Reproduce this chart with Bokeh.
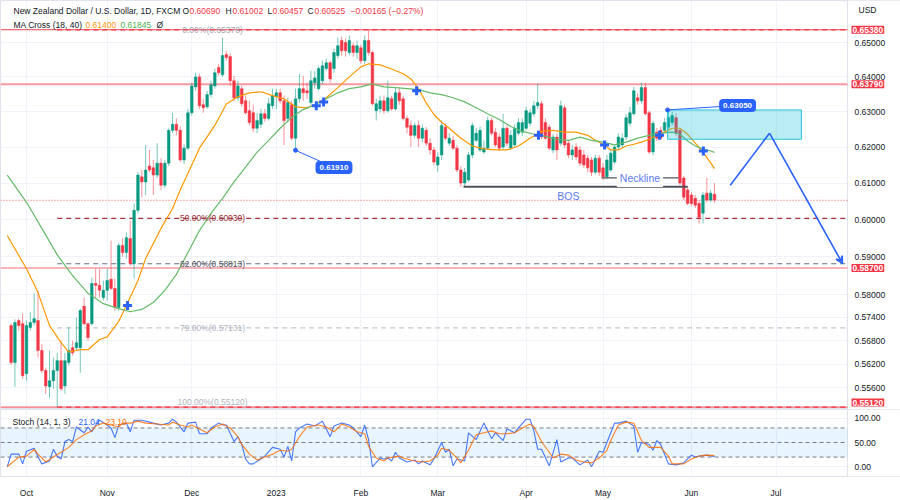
import math
from bokeh.plotting import figure
from bokeh.layouts import column
from bokeh.models import (ColumnDataSource, FixedTicker, Label, Arrow, VeeHead, Range1d, Grid)
from bokeh.core.properties import value
from bokeh.embed import file_html
from bokeh.resources import INLINE

FONT = "Liberation Sans"

# ---------------- data (daily bars, index 0 = first bar of October 2022) ----------------
bar_index = list(range(-4, 180))
opens = [0.5719,0.5624,0.5732,0.5724,0.5596,0.5714,0.5727,0.5732,0.5655,0.5604,
         0.5563,0.5578,0.5604,0.5629,0.5565,0.5624,0.5662,0.5662,0.5662,0.5769,
         0.5724,0.5724,0.5829,0.5824,0.5792,0.5811,0.5840,0.5816,0.5766,0.5930,
         0.5911,0.5949,0.5882,0.6025,0.6117,0.6103,0.6147,0.6142,0.6122,0.6155,
         0.6094,0.6155,0.6247,0.6264,0.6247,0.6164,0.6197,0.6297,0.6371,0.6400,
         0.6320,0.6314,0.6349,0.6374,0.6427,0.6406,0.6465,0.6459,0.6389,0.6340,
         0.6366,0.6331,0.6303,0.6297,0.6253,0.6264,0.6294,0.6281,0.6317,0.6343,
         0.6354,0.6331,0.6281,0.6320,0.6225,0.6337,0.6366,0.6360,0.6326,0.6383,
         0.6366,0.6389,0.6424,0.6441,0.6424,0.6462,0.6506,0.6500,0.6471,0.6491,
         0.6471,0.6485,0.6447,0.6506,0.6471,0.6303,0.6308,0.6331,0.6303,0.6337,
         0.6308,0.6354,0.6337,0.6281,0.6261,0.6233,0.6261,0.6225,0.6247,0.6211,
         0.6192,0.6150,0.6178,0.6256,0.6211,0.6219,0.6197,0.6136,0.6100,0.6108,
         0.6178,0.6219,0.6192,0.6186,0.6197,0.6275,0.6242,0.6228,0.6200,0.6253,
         0.6197,0.6206,0.6239,0.6242,0.6253,0.6267,0.6294,0.6317,0.6323,0.6269,
         0.6256,0.6192,0.6228,0.6211,0.6311,0.6211,0.6178,0.6200,0.6192,0.6178,
         0.6169,0.6164,0.6130,0.6169,0.6142,0.6117,0.6136,0.6158,0.6200,0.6206,
         0.6228,0.6267,0.6294,0.6340,0.6331,0.6369,0.6297,0.6186,0.6242,0.6247,
         0.6247,0.6256,0.6269,0.6283,0.6247,0.6114,0.6081,0.6067,0.6058,0.6044,
         0.6017,0.6072,0.6053,0.6069]
highs = [0.5724,0.5735,0.5737,0.5750,0.5732,0.5753,0.5803,0.5811,0.5672,0.5611,
         0.5655,0.5637,0.5649,0.5680,0.5649,0.5716,0.5680,0.5740,0.5763,0.5792,
         0.5727,0.5845,0.5868,0.5868,0.5837,0.5868,0.5943,0.5842,0.5938,0.5949,
         0.5965,0.5997,0.6044,0.6130,0.6136,0.6206,0.6192,0.6164,0.6211,0.6169,
         0.6164,0.6253,0.6297,0.6281,0.6258,0.6208,0.6308,0.6383,0.6412,0.6409,
         0.6337,0.6360,0.6389,0.6424,0.6438,0.6515,0.6476,0.6468,0.6403,0.6389,
         0.6374,0.6346,0.6331,0.6320,0.6297,0.6308,0.6308,0.6340,0.6366,0.6366,
         0.6366,0.6346,0.6340,0.6331,0.6366,0.6409,0.6403,0.6383,0.6418,0.6418,
         0.6432,0.6447,0.6453,0.6447,0.6482,0.6515,0.6518,0.6512,0.6521,0.6500,
         0.6506,0.6494,0.6521,0.6538,0.6476,0.6337,0.6346,0.6346,0.6389,0.6346,
         0.6371,0.6369,0.6346,0.6289,0.6275,0.6269,0.6275,0.6264,0.6256,0.6225,
         0.6200,0.6186,0.6275,0.6267,0.6239,0.6231,0.6206,0.6147,0.6142,0.6186,
         0.6269,0.6253,0.6258,0.6219,0.6286,0.6283,0.6253,0.6239,0.6294,0.6261,
         0.6247,0.6264,0.6281,0.6281,0.6314,0.6308,0.6331,0.6380,0.6331,0.6281,
         0.6264,0.6236,0.6239,0.6331,0.6320,0.6219,0.6206,0.6211,0.6203,0.6192,
         0.6178,0.6172,0.6178,0.6178,0.6155,0.6178,0.6192,0.6206,0.6239,0.6239,
         0.6294,0.6314,0.6371,0.6354,0.6383,0.6383,0.6303,0.6275,0.6253,0.6258,
         0.6281,0.6305,0.6300,0.6295,0.6253,0.6119,0.6092,0.6075,0.6067,0.6053,
         0.6075,0.6114,0.6081,0.6100]
lows = [0.5619,0.5563,0.5706,0.5583,0.5578,0.5706,0.5719,0.5637,0.5598,0.5545,
        0.5535,0.5558,0.5512,0.5553,0.5545,0.5616,0.5642,0.5655,0.5598,0.5719,
        0.5680,0.5719,0.5792,0.5792,0.5784,0.5784,0.5811,0.5758,0.5758,0.5900,
        0.5895,0.5876,0.5842,0.6017,0.6061,0.6067,0.6130,0.6067,0.6114,0.6081,
        0.6086,0.6147,0.6239,0.6233,0.6158,0.6153,0.6192,0.6289,0.6360,0.6308,
        0.6297,0.6308,0.6340,0.6366,0.6403,0.6400,0.6447,0.6374,0.6331,0.6331,
        0.6314,0.6292,0.6261,0.6242,0.6239,0.6253,0.6272,0.6275,0.6308,0.6308,
        0.6323,0.6206,0.6269,0.6219,0.6191,0.6326,0.6331,0.6337,0.6320,0.6366,
        0.6360,0.6380,0.6418,0.6383,0.6412,0.6453,0.6462,0.6459,0.6462,0.6459,
        0.6453,0.6438,0.6438,0.6462,0.6317,0.6275,0.6297,0.6294,0.6297,0.6303,
        0.6303,0.6320,0.6275,0.6239,0.6200,0.6225,0.6200,0.6214,0.6203,0.6178,
        0.6150,0.6130,0.6164,0.6219,0.6203,0.6192,0.6130,0.6089,0.6089,0.6103,
        0.6169,0.6214,0.6186,0.6181,0.6192,0.6233,0.6200,0.6189,0.6194,0.6203,
        0.6192,0.6197,0.6233,0.6231,0.6247,0.6258,0.6286,0.6308,0.6222,0.6219,
        0.6192,0.6183,0.6164,0.6203,0.6197,0.6169,0.6164,0.6164,0.6147,0.6142,
        0.6130,0.6119,0.6125,0.6119,0.6108,0.6111,0.6130,0.6153,0.6192,0.6197,
        0.6219,0.6258,0.6289,0.6320,0.6323,0.6289,0.6181,0.6178,0.6217,0.6219,
        0.6239,0.6247,0.6261,0.6231,0.6094,0.6053,0.6039,0.6036,0.6031,0.5989,
        0.5989,0.6047,0.6047,0.6046]
closes = [0.5624,0.5727,0.5719,0.5591,0.5719,0.5727,0.5737,0.5655,0.5604,0.5565,
          0.5578,0.5604,0.5629,0.5558,0.5629,0.5655,0.5649,0.5675,0.5758,0.5724,
          0.5688,0.5829,0.5824,0.5811,0.5811,0.5837,0.5816,0.5766,0.5930,0.5911,
          0.5951,0.5882,0.6025,0.6122,0.6103,0.6136,0.6136,0.6122,0.6155,0.6094,
          0.6155,0.6247,0.6264,0.6247,0.6164,0.6197,0.6297,0.6374,0.6400,0.6317,
          0.6311,0.6349,0.6377,0.6412,0.6412,0.6462,0.6456,0.6389,0.6340,0.6374,
          0.6323,0.6297,0.6269,0.6253,0.6275,0.6294,0.6281,0.6323,0.6346,0.6354,
          0.6331,0.6275,0.6326,0.6225,0.6337,0.6366,0.6354,0.6354,0.6389,0.6397,
          0.6424,0.6432,0.6441,0.6394,0.6471,0.6491,0.6476,0.6476,0.6506,0.6471,
          0.6491,0.6447,0.6506,0.6471,0.6323,0.6323,0.6331,0.6303,0.6340,0.6308,
          0.6354,0.6331,0.6281,0.6256,0.6233,0.6261,0.6225,0.6253,0.6211,0.6192,
          0.6158,0.6172,0.6261,0.6225,0.6225,0.6197,0.6136,0.6100,0.6130,0.6178,
          0.6261,0.6239,0.6247,0.6197,0.6275,0.6239,0.6206,0.6197,0.6253,0.6211,
          0.6233,0.6253,0.6269,0.6269,0.6303,0.6297,0.6317,0.6326,0.6228,0.6225,
          0.6197,0.6228,0.6192,0.6317,0.6206,0.6178,0.6192,0.6172,0.6155,0.6150,
          0.6142,0.6130,0.6169,0.6130,0.6117,0.6164,0.6183,0.6200,0.6228,0.6225,
          0.6283,0.6297,0.6360,0.6331,0.6369,0.6294,0.6186,0.6267,0.6225,0.6225,
          0.6269,0.6283,0.6289,0.6239,0.6100,0.6061,0.6044,0.6044,0.6039,0.6006,
          0.6067,0.6053,0.6072,0.6053]

# MA Cross (18, 40)
ma18_idx = [-5,0,3,6,9,11,14,16,19,21,24,26,29,31,35,38,40,43,45,49,52,55,58,61,64,67,70,73,75,78,
            81,84,87,89,92,95,98,100,102,104,106,108,110,113,116,119,122,125,128,131,134,137,140,143,
            146,148,150,152,154,156,158,160,162,164,166,168,170,172,174,176,178,179]
ma18_val = [0.5957,0.5868,0.5805,0.5719,0.5675,0.5651,0.5657,0.5657,0.5683,0.5690,0.5730,0.5771,0.5837,
            0.5895,0.5976,0.6030,0.6081,0.6150,0.6197,0.6261,0.6322,0.6343,0.6354,0.6357,0.6346,0.6337,
            0.6314,0.6311,0.6320,0.6340,0.6369,0.6400,0.6429,0.6438,0.6435,0.6423,0.6409,0.6394,0.6366,
            0.6325,0.6292,0.6270,0.6253,0.6225,0.6203,0.6195,0.6192,0.6192,0.6203,0.6225,0.6244,0.6247,
            0.6242,0.6242,0.6233,0.6219,0.6208,0.6192,0.6192,0.6203,0.6208,0.6214,0.6222,0.6233,0.6242,
            0.6253,0.6253,0.6236,0.6211,0.6186,0.6156,0.6140]
ma40_idx = [-5,0,4,8,12,16,20,24,27,30,33,36,39,42,45,48,51,54,57,60,63,66,69,72,75,78,81,84,87,90,
            93,96,99,102,105,108,111,114,117,120,123,126,129,132,135,138,141,144,147,150,153,156,159,
            162,165,168,170,172,174,176,178,179]
ma40_val = [0.6122,0.6047,0.5976,0.5905,0.5850,0.5803,0.5776,0.5763,0.5755,0.5761,0.5779,0.5811,0.5853,
            0.5911,0.5970,0.6017,0.6058,0.6103,0.6144,0.6186,0.6219,0.6253,0.6284,0.6306,0.6320,0.6337,
            0.6354,0.6366,0.6371,0.6380,0.6371,0.6369,0.6366,0.6363,0.6354,0.6349,0.6340,0.6328,0.6311,
            0.6294,0.6278,0.6258,0.6244,0.6236,0.6230,0.6222,0.6219,0.6228,0.6219,0.6214,0.6206,0.6214,
            0.6225,0.6233,0.6239,0.6242,0.6236,0.6217,0.6203,0.6195,0.6189,0.6185]
cross_idx = [26.3, 75.4, 77.3, 101.5, 133.2, 150.4, 164.7, 176.1]
cross_val = [0.5771, 0.6317, 0.6328, 0.6360, 0.6233, 0.6206, 0.6233, 0.6189]

# Stoch (14, 1, 3)
k_idx = [-5,-4,-2,-1,0,2,3,4,6,7, 8,9,10,11,12,13,15,16,17,18, 19,21,22,23,24,26,27,28,30,32,
         33,35,37,38,39,41,42,44,45,47, 48,50,51,52,54,55,56,57,58,59, 61,62,64,66,67,68,69,70,71,73,
         75,77,79,80,82,84,85,87,88,89, 90,92,93,94,95,96,97,99,101,102, 103,105,106,108,109,110,111,112,114,115,
         117,119,121,122,124,125,127,128,130,131, 132,133,134,136,138,139,141,142,144,146,
         147,149,150,151,153,154,156,158,159,160, 162,163,164,165,167,169,171,173,174,175, 177,179]
k_val = [0,26,26,6,32,38,20,6,12,36, 22,16,52,56,52,82,70,82,72,86, 96,86,80,60,86,90,72,96,96,92,
         90,86,90,98,92,72,90,92,68,68, 80,90,86,86,52,62,46,16,6,6, 16,22,40,36,20,42,12,72,80,88,
         84,94,62,84,90,86,80,62,86,56, 0,18,16,18,12,30,18,10,14,6, 12,4,16,50,30,36,2,16,12,70,
         56,90,58,70,54,78,70,80,98,98, 74,36,36,2,56,10,18,18,4,14,
         0,32,30,50,90,90,94,84,30,50, 46,34,54,46,6,4,8,24,20,22, 24,21.04]
d_idx = [-5,-2,0,2,3,5,7,9,11,13, 15,17,18,20,22,24,25,27,29,31, 34,37,38,40,42,43,45,47,49,51,
         53,55,56,58,60,62,64,66,68,69, 71,73,76,78,80,82,84,86,88,89, 91,93,94,97,98,101,103,105,107,108,
         110,112,113,115,117,119,121,123,125,127, 129,131,132,134,136,137,139,141,143,145,
         147,149,151,152,154,156,158,160,162,163, 165,167,168,171,173,175,177,179]
d_val = [0,20,22,36,26,10,20,30,40,56, 66,74,84,90,86,82,90,90,94,90, 88,86,92,86,82,86,78,70,82,88,
         80,62,46,26,14,20,26,34,32,36, 62,82,86,82,72,88,82,72,68,42, 18,12,18,22,18,12,10,12,24,38,
         34,18,8,34,66,70,74,68,68,70, 80,88,82,52,30,18,26,24,14,10,
         8,18,34,54,86,92,90,54,40,40, 40,22,6,6,16,22,24,23.10]

# drawings
hline_levels = [0.65380, 0.63790, 0.58700, 0.55120]
fib_pct = ["0.00%", "50.00%", "62.00%", "79.00%", "100.00%"]
fib_price = [0.65378, 0.60030, 0.58813, 0.57131, 0.55120]
fib_start = 8
fib_label_at = 48.4
zone_left, zone_right, zone_bottom, zone_top = 166.8, 201.6, 0.6222, 0.6305
path_idx = [183.1, 193.3, 212.3]
path_val = [0.6094, 0.6239, 0.5882]
neck_from, neck_to, neck_val = 149.6, 169.6, 0.6114
bos_from, bos_to, bos_val = 113.7, 172.0, 0.6090
callouts = [(70, 0.6191, 80.0, 0.6143, "0.61910"), (166.8, 0.6305, 185.0, 0.6318, "0.63050")]
last_close = 0.60525

month_idx = [0, 21, 43, 65, 87, 107, 130, 150, 173, 195]
month_lbl = ["Oct", "Nov", "Dec", "2023", "Feb", "Mar", "Apr", "May", "Jun", "Jul"]
price_ticks = [0.556, 0.562, 0.568, 0.574, 0.58, 0.59, 0.60, 0.61, 0.62, 0.63, 0.64, 0.65]
stoch_ticks = [0, 50, 100]

# ---------------- styling ----------------
UP, DN = "#089981", "#f23645"
BLUE = "#2962ff"
DARK = "#131722"
GRID = "#f0f3fa"
X0, X1 = -6.76, 213.6             # visible bars; X1 = left edge of the price scale
XF = X0 + 900 / (847 / (X1 - X0))  # right edge of the canvas (price scale column)
Y0, Y1 = 0.5506, 0.6625
MAIN_H = 409
LT, LB = math.log(Y1), math.log(Y0)


def py(px):
    """pixel row inside the main pane -> price (only for overlay text placement)"""
    return math.exp(LT - px / MAIN_H * (LT - LB))


def base_fig(height, yr, ytype, xaxis):
    f = figure(width=900, height=height, x_range=xr, y_range=yr, y_axis_type=ytype,
               x_axis_location=xaxis, y_axis_location=None, output_backend="svg",
               toolbar_location=None, tools="", min_border_left=0, min_border_top=0,
               min_border_right=0, min_border_bottom=0)
    f.outline_line_color = "#e0e3eb"
    f.background_fill_color = "white"
    f.border_fill_color = "white"
    f.grid.visible = False
    return f


def hdr(fig, txt, xpx, yv, color, size="8.5px", bold=False):
    fig.add_layout(Label(x=X0, y=yv, x_offset=xpx, text=txt, text_baseline="middle",
                         text_font=FONT, text_font_size=size, text_color=color,
                         text_font_style="bold" if bold else "normal"))


xr = Range1d(X0, XF)

# ================= main pane =================
p = base_fig(MAIN_H, Range1d(Y0, Y1), "log", None)
p.add_layout(Grid(dimension=0, ticker=FixedTicker(ticks=month_idx), grid_line_color=GRID))
p.add_layout(Grid(dimension=1, ticker=FixedTicker(ticks=price_ticks), grid_line_color=GRID))

# price-scale column
p.quad(left=[X1], right=[XF], bottom=[Y0], top=[Y1], fill_color="white", line_color=None)
p.segment(x0=[X1], y0=[Y0], x1=[X1], y1=[Y1], line_color="#e0e3eb", line_width=1)
p.text(x=[X1] * len(price_ticks), y=price_ticks, text=[f"{t:.5f}" for t in price_ticks],
       x_offset=7, text_baseline="middle", text_font=value(FONT), text_font_size="8.5px",
       text_color=DARK)

# horizontal levels
for lv in hline_levels:
    w, a = (2, 0.5) if abs(lv - 0.6379) < 1e-6 else (1.2, 0.75)
    p.segment(x0=[X0], y0=[lv], x1=[X1], y1=[lv], line_color=DN, line_width=w, line_alpha=a)
p.segment(x0=[X0], y0=[last_close], x1=[X1], y1=[last_close], line_color=DN, line_width=1,
          line_dash="1 2", line_alpha=0.8)

# fib retracement
fib_line_col = ["#f23645", "#a8323a", "#6a6d78", "#c3c6ce", "#f23645"]
fib_text_col = ["#a3a6af", "#9c2f36", "#50535e", "#b2b5be", "#b2b5be"]
for k, (pc, pr, lc, tc) in enumerate(zip(fib_pct, fib_price, fib_line_col, fib_text_col)):
    p.line([fib_start, X1], [pr, pr], line_color=lc, line_width=1.2, line_dash="5 4")
    p.add_layout(Label(x=fib_label_at, y=pr, text=f"{pc}({pr:.5f})", text_align="center",
                       text_baseline="bottom" if k == len(fib_pct) - 1 else "middle",
                       text_font=FONT, text_font_size="8.5px", text_color=tc))

# candles
src = ColumnDataSource(dict(
    x=bar_index, h=highs, l=lows,
    top=[max(o, c) for o, c in zip(opens, closes)],
    bot=[min(o, c) for o, c in zip(opens, closes)],
    color=[UP if c >= o else DN for o, c in zip(opens, closes)]))
p.segment("x", "h", "x", "l", source=src, line_color="color", line_alpha=0.55, line_width=1)
p.vbar(x="x", width=0.68, top="top", bottom="bot", fill_color="color", line_color="color",
       line_width=0.5, source=src)

# moving averages
p.line(ma18_idx, ma18_val, line_color="#ff9800", line_width=1.2)
p.line(ma40_idx, ma40_val, line_color="#66bb6a", line_width=1.2)
p.scatter(cross_idx, cross_val, marker="cross", size=9, line_color=BLUE, line_width=3)

# zone and projected path
p.quad(left=[zone_left], right=[zone_right], bottom=[zone_bottom], top=[zone_top],
       fill_color="#00bcd4", fill_alpha=0.27, line_color="#26c6da", line_width=1)
p.line(path_idx[:2], path_val[:2], line_color=BLUE, line_width=1.6)
p.add_layout(Arrow(end=VeeHead(size=7, line_color=BLUE, line_width=1.6, fill_color=None),
                   x_start=path_idx[1], y_start=path_val[1], x_end=path_idx[2], y_end=path_val[2],
                   line_color=BLUE, line_width=1.6))

# neckline and BOS
p.line([bos_from, bos_to], [bos_val, bos_val], line_color="#50535e", line_width=2)
p.line([neck_from, neck_to], [neck_val, neck_val], line_color="#50535e", line_width=1.3)
p.add_layout(Label(x=(neck_from + neck_to) / 2, y=neck_val, text="Neckline", text_align="center",
                   text_baseline="middle", text_font=FONT, text_font_size="10.5px",
                   text_color="#5b7cf7", background_fill_color="white", padding=3))
p.add_layout(Label(x=141, y=0.6064, text="BOS", text_align="center", text_baseline="middle",
                   text_font=FONT, text_font_size="10.5px", text_color="#5b7cf7"))

# price callouts
for ax, ay, bx, by, txt in callouts:
    p.line([ax, bx], [ay, by], line_color=BLUE, line_width=1)
    p.scatter([ax], [ay], size=4, color=BLUE)
    p.add_layout(Label(x=bx, y=by, text=txt, text_align="center", text_baseline="middle",
                       text_font=FONT, text_font_size="8px", text_font_style="bold",
                       text_color="white", background_fill_color=BLUE, padding=4,
                       border_radius=4))

# price-scale flags of the horizontal levels (lowest one kept inside the pane)
for lv in hline_levels:
    fy = max(lv, py(402))
    p.add_layout(Label(x=X1, y=fy, x_offset=4, text=f"{lv:.5f}", text_baseline="middle",
                       text_font=FONT, text_font_size="8.5px", text_font_style="bold",
                       text_color="white", background_fill_color=DN, padding=1))
p.add_layout(Label(x=X1, y=py(9), x_offset=11, text="USD", text_baseline="middle",
                   text_font=FONT, text_font_size="8.5px", text_color=DARK))

# header
y1, y2 = py(10), py(24)
hdr(p, "New Zealand Dollar / U.S. Dollar, 1D, FXCM", 13, y1, DARK)
for t, xx, col in [("O", 182, DARK), (f"{opens[-1]:.5f}", 189, DN), ("H", 225, DARK),
                   ("0.61002", 232, DN), ("L", 267, DARK), ("0.60457", 272, DN),
                   ("C", 307, DARK), ("0.60525", 314, DN), ("−0.00165 (−0.27%)", 350, DN)]:
    hdr(p, t, xx, y1, col)
hdr(p, "MA Cross (18, 40)", 13, y2, DARK)
hdr(p, "0.61400", 85, y2, "#ff9800")
hdr(p, "0.61845", 120, y2, "#4caf50")
hdr(p, "Ø", 156, y2, DARK)

# ================= stochastic pane =================
s = base_fig(91, Range1d(-20, 118), "linear", "below")
s.min_border_bottom = 22
s.add_layout(Grid(dimension=0, ticker=FixedTicker(ticks=month_idx), grid_line_color=GRID))
s.add_layout(Grid(dimension=1, ticker=FixedTicker(ticks=[0, 100]), grid_line_color=GRID))
sx = s.xaxis[0]
sx.ticker = FixedTicker(ticks=month_idx)
sx.major_label_overrides = {m: l for m, l in zip(month_idx, month_lbl)}
sx.major_tick_line_color = None
sx.minor_tick_line_color = None
sx.axis_line_color = None
sx.major_label_text_font = FONT
sx.major_label_text_font_size = "8.5px"
sx.major_label_text_color = DARK
sx.major_label_standoff = 5

s.quad(left=[X1], right=[XF], bottom=[-20], top=[118], fill_color="white", line_color=None)
s.segment(x0=[X1], y0=[-20], x1=[X1], y1=[118], line_color="#e0e3eb", line_width=1)
s.text(x=[X1] * len(stoch_ticks), y=stoch_ticks, text=[f"{t:.2f}" for t in stoch_ticks],
       x_offset=7, text_baseline="middle", text_font=value(FONT), text_font_size="8.5px",
       text_color=DARK)
s.quad(left=[X0], right=[X1], bottom=[20], top=[80], fill_color="#2196f3", fill_alpha=0.1,
       line_color=None)
for lv in [80, 50, 20]:
    s.segment(x0=[X0], y0=[lv], x1=[X1], y1=[lv], line_color="#787b86", line_width=1,
              line_dash="4 3")
s.line(k_idx, k_val, line_color=BLUE, line_width=1.1, line_alpha=0.85)
s.line(d_idx, d_val, line_color="#ff6d00", line_width=1.1, line_alpha=0.85)
hdr(s, "Stoch (14, 1, 3)", 12, 92, DARK)
hdr(s, "21.04", 78, 92, BLUE)
hdr(s, "23.10", 105, 92, "#ff6d00")

layout = column(p, s, spacing=0)
open("out.html", "w").write(file_html(layout, INLINE))
